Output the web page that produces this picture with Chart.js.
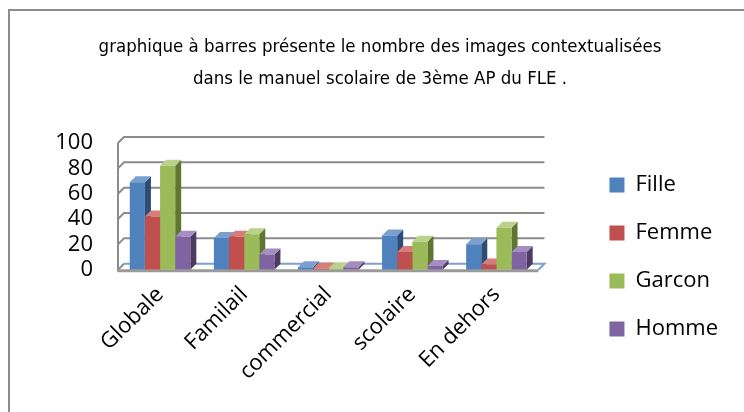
<!DOCTYPE html>
<html>
<head>
<meta charset="utf-8">
<script src="https://cdn.jsdelivr.net/npm/chart.js@4.4.0/dist/chart.umd.min.js"></script>
<style>
  body { margin: 0; background: #fff; }
  #frame { position: absolute; left: 8px; top: 9px; width: 760px; height: 420px; border: 2px solid #8c8c8c; }
  #wrap { position: absolute; left: 0; top: 0; width: 744px; height: 412px; }
</style>
</head>
<body>
<div id="frame"></div>
<div id="wrap"><canvas id="chart"></canvas></div>
<script>
// chart data
const categories = ['Globale', 'Familail', 'commercial', 'scolaire', 'En dehors'];
const seriesNames = ['Fille', 'Femme', 'Garcon', 'Homme'];
const fille = [69, 25, 2, 27, 20];
const femme = [42, 26, 1, 14, 4];
const garcon = [82, 28, 1, 22, 33];
const homme = [26, 12, 2, 3, 14];
const yTicks = [0, 20, 40, 60, 80, 100];

const titleLines = [
  'graphique à barres présente le nombre des images contextualisées',
  'dans le manuel scolaire de 3ème AP du FLE .'
];

// Office 2007 colours
const colors = ['#4F81BD', '#C0504D', '#9BBB59', '#8064A2'];
const sideColors = ['#2c4d75', '#772c2a', '#5f7530', '#4d3b62'];
const topColors = ['#7ba0cf', '#d47d7a', '#b9d18a', '#a48dc0'];
const depth = 6;

// draws the back wall, floor and the 3D sides / tops of the bars
const fake3d = {
  id: 'fake3d',
  beforeDatasetsDraw(chart) {
    const ctx = chart.ctx;
    const area = chart.chartArea;
    const y = chart.scales.y;
    ctx.save();
    // back wall gridlines
    ctx.strokeStyle = '#8c8c8c';
    ctx.lineWidth = 2;
    yTicks.forEach(v => {
      const py = y.getPixelForValue(v);
      ctx.beginPath();
      ctx.moveTo(area.left, py);
      ctx.lineTo(area.left + depth, py - depth);
      if (v > 0) ctx.lineTo(area.right + depth, py - depth);
      ctx.stroke();
    });
    // left wall edge
    ctx.beginPath();
    ctx.moveTo(area.left, y.getPixelForValue(0) + 2);
    ctx.lineTo(area.left, y.getPixelForValue(100));
    ctx.stroke();
    // floor
    const p0 = y.getPixelForValue(0);
    ctx.strokeStyle = '#7f9fcf';
    ctx.lineWidth = 2;
    ctx.beginPath();
    ctx.moveTo(area.left + depth, p0 - depth);
    ctx.lineTo(area.right + depth, p0 - depth);
    ctx.lineTo(area.right, p0);
    ctx.stroke();
    ctx.strokeStyle = '#9a9a9a';
    ctx.lineWidth = 3;
    ctx.beginPath();
    ctx.moveTo(area.left, p0 + 1);
    ctx.lineTo(area.right, p0 + 1);
    ctx.stroke();

    // sides and tops, left to right
    const bars = [];
    chart.data.datasets.forEach((ds, i) => {
      chart.getDatasetMeta(i).data.forEach(el => bars.push({ el, i }));
    });
    bars.sort((a, b) => a.el.x - b.el.x);
    bars.forEach(({ el, i }) => {
      const l = el.x - el.width / 2;
      const r = el.x + el.width / 2;
      const t = el.y;
      const b = el.base;
      ctx.fillStyle = sideColors[i];
      ctx.beginPath();
      ctx.moveTo(r, t);
      ctx.lineTo(r + depth, t - depth);
      ctx.lineTo(r + depth, b - depth);
      ctx.lineTo(r, b);
      ctx.closePath();
      ctx.fill();
      ctx.fillStyle = topColors[i];
      ctx.beginPath();
      ctx.moveTo(l, t);
      ctx.lineTo(l + depth, t - depth);
      ctx.lineTo(r + depth, t - depth);
      ctx.lineTo(r, t);
      ctx.closePath();
      ctx.fill();
    });
    ctx.restore();
  }
};

const seriesValues = [fille, femme, garcon, homme];

const ctx = document.getElementById('chart').getContext('2d');
const chart = new Chart(ctx, {
  type: 'bar',
  data: {
    labels: categories,
    datasets: seriesNames.map((name, i) => ({
      label: name,
      data: seriesValues[i],
      backgroundColor: colors[i],
      borderWidth: 0,
      categoryPercentage: 0.72,
      barPercentage: 1
    }))
  },
  plugins: [fake3d],
  options: {
    responsive: true,
    maintainAspectRatio: false,
    animation: false,
    layout: {
      padding: { left: 32, right: 16, top: 0, bottom: 23 }
    },
    plugins: {
      title: {
        display: true,
        text: titleLines,
        color: '#000',
        font: { family: '"Liberation Sans Narrow", "DejaVu Sans Condensed", sans-serif', size: 18.5, weight: 'normal', lineHeight: 32 / 18.5 },
        padding: { top: 31, bottom: 48 }
      },
      legend: {
        position: 'right',
        align: 'start',
        maxWidth: 220,
        // empty title used only to push the items down
        title: {
          display: true,
          text: ' ',
          font: { size: 1, lineHeight: 1 },
          padding: { top: 147, bottom: 0 }
        },
        labels: {
          color: '#000',
          boxWidth: 15,
          boxHeight: 15,
          padding: 26,
          font: { family: '"Open Sans", sans-serif', size: 22 }
        }
      },
      tooltip: { enabled: false }
    },
    scales: {
      x: {
        grid: { display: false },
        border: { display: false },
        ticks: {
          color: '#000',
          maxRotation: 45,
          minRotation: 45,
          padding: 4,
          font: { family: '"Open Sans", sans-serif', size: 22 }
        }
      },
      y: {
        min: 0,
        max: 100,
        grid: { display: false, drawTicks: false },
        border: { display: false },
        afterBuildTicks: axis => { axis.ticks = yTicks.map(v => ({ value: v })); },
        afterFit: axis => { axis.width = 86; },
        ticks: {
          color: '#000',
          padding: 25,
          autoSkip: false,
          font: { family: '"Open Sans", sans-serif', size: 22 }
        }
      },
      gap: {
        position: 'right',
        display: true,
        grid: { display: false },
        border: { display: false },
        ticks: { display: false },
        afterFit: axis => { axis.width = 45; }
      }
    }
  }
});
</script>
</body>
</html>
